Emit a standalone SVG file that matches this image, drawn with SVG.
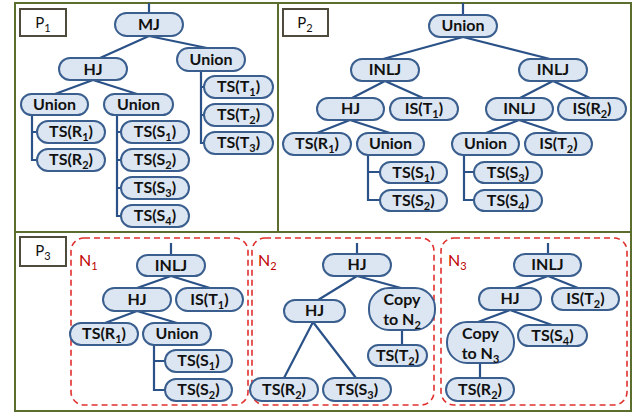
<svg xmlns="http://www.w3.org/2000/svg" width="643" height="414" viewBox="0 0 643 414">
<style>
.frame{fill:none;stroke:#5b6e2d;stroke-width:2}
.lbl{fill:#fff;stroke:#4f4b3c;stroke-width:2}
.n{fill:#dce6f2;stroke:#3a5f8f;stroke-width:2}
.e{stroke:#2b5288;stroke-width:2.2;fill:none}
.dash{fill:none;stroke:#e0302e;stroke-width:1.6;stroke-dasharray:6 4}
text{font-family:Lato,"Open Sans","Liberation Sans",sans-serif}
.t{font-weight:bold;font-size:16px;fill:#111;text-anchor:middle}
.pl{font-size:15px;fill:#111;text-anchor:middle}
.nl{font-size:16px;fill:#c00000}
.s{font-size:11px}
</style>
<rect width="643" height="414" fill="#fff"/>
<g id="frame">
<rect class="frame" x="15" y="3" width="616" height="408"/>
<line class="frame" x1="278" y1="3" x2="278" y2="232"/>
<line class="frame" x1="15" y1="232" x2="631" y2="232"/>
</g>
<g id="labels">
<rect class="lbl" x="20" y="9" width="46" height="27"/>
<text class="pl" x="43" y="28">P<tspan class="s" dy="4">1</tspan></text>
<rect class="lbl" x="283" y="9" width="45" height="27"/>
<text class="pl" x="305" y="28">P<tspan class="s" dy="4">2</tspan></text>
<rect class="lbl" x="20" y="237" width="46" height="29"/>
<text class="pl" x="43" y="256">P<tspan class="s" dy="4">3</tspan></text>
<rect class="dash" x="71" y="238" width="177" height="167" rx="13"/>
<rect class="dash" x="252" y="238" width="182" height="167" rx="13"/>
<rect class="dash" x="441" y="238" width="186" height="167" rx="13"/>
<text class="nl" x="79" y="266">N<tspan class="s" dy="4">1</tspan></text>
<text class="nl" x="258" y="266">N<tspan class="s" dy="4">2</tspan></text>
<text class="nl" x="448" y="266">N<tspan class="s" dy="4">3</tspan></text>
</g>
<g id="connectors">
<path class="e" d="M149,3V13M149,36L100,58M149,36L207,48M93,80L55,94M93,80L137,94M32,115V160H37M32,132H37M117,115V216H121M117,132H121M117,160H121M117,188H121M201,71V143H204M201,87H204M201,115H204"/>
<path class="e" d="M463,3V15M463,37L383,59M463,37L550,59M385,81L352,98M385,81L423,98M553,81L520,98M553,81L590,98M350,120L317,133M350,120L390,133M519,120L486,133M519,120L558,133M368,155V200H380M368,172H380M464,155V200H474M464,172H474"/>
<path class="e" d="M171,243V255M171,276L137,288M171,276L210,288M137,311L105,323M137,311L177,323M154,345V390H165M154,361H165"/>
<path class="e" d="M357,243V254M357,276L318,300M357,276L401,288M313,322L284,378M313,322L356,378M402,330V345"/>
<path class="e" d="M548,243V254M548,276L515,288M548,276L578,288M510,310L478,322M510,310L552,325M480,363V378"/>
</g>
<g id="p1_mj"><rect class="n" x="115" y="13" width="68" height="23" rx="11.5"/><text class="t" x="149" y="30">MJ</text></g>
<g id="p1_hj"><rect class="n" x="59" y="58" width="68" height="22" rx="11"/><text class="t" x="93" y="75">HJ</text></g>
<g id="p1_union_t"><rect class="n" x="177" y="48" width="68" height="23" rx="11.5"/><text class="t" x="211" y="65">Union</text></g>
<g id="p1_union_r"><rect class="n" x="21" y="94" width="67" height="21" rx="10.5"/><text class="t" x="54.5" y="110">Union</text></g>
<g id="p1_union_s"><rect class="n" x="104" y="94" width="69" height="21" rx="10.5"/><text class="t" x="138.5" y="110">Union</text></g>
<g id="p1_tsr1"><rect class="n" x="37" y="121" width="68" height="22" rx="11"/><text class="t" x="71" y="137">TS(R<tspan class="s" dy="4">1</tspan><tspan dy="-4">)</tspan></text></g>
<g id="p1_tsr2"><rect class="n" x="37" y="149" width="68" height="22" rx="11"/><text class="t" x="71" y="165">TS(R<tspan class="s" dy="4">2</tspan><tspan dy="-4">)</tspan></text></g>
<g id="p1_tss1"><rect class="n" x="121" y="121" width="68" height="22" rx="11"/><text class="t" x="155" y="137">TS(S<tspan class="s" dy="4">1</tspan><tspan dy="-4">)</tspan></text></g>
<g id="p1_tss2"><rect class="n" x="121" y="149" width="68" height="22" rx="11"/><text class="t" x="155" y="165">TS(S<tspan class="s" dy="4">2</tspan><tspan dy="-4">)</tspan></text></g>
<g id="p1_tss3"><rect class="n" x="121" y="177" width="68" height="22" rx="11"/><text class="t" x="155" y="193">TS(S<tspan class="s" dy="4">3</tspan><tspan dy="-4">)</tspan></text></g>
<g id="p1_tss4"><rect class="n" x="121" y="205" width="68" height="22" rx="11"/><text class="t" x="155" y="221">TS(S<tspan class="s" dy="4">4</tspan><tspan dy="-4">)</tspan></text></g>
<g id="p1_tst1"><rect class="n" x="204" y="76" width="69" height="22" rx="11"/><text class="t" x="238.5" y="92">TS(T<tspan class="s" dy="4">1</tspan><tspan dy="-4">)</tspan></text></g>
<g id="p1_tst2"><rect class="n" x="204" y="104" width="69" height="22" rx="11"/><text class="t" x="238.5" y="120">TS(T<tspan class="s" dy="4">2</tspan><tspan dy="-4">)</tspan></text></g>
<g id="p1_tst3"><rect class="n" x="204" y="132" width="69" height="22" rx="11"/><text class="t" x="238.5" y="148">TS(T<tspan class="s" dy="4">3</tspan><tspan dy="-4">)</tspan></text></g>

<g id="p2_union"><rect class="n" x="429" y="15" width="68" height="22" rx="11"/><text class="t" x="463" y="31">Union</text></g>
<g id="p2_inlj_l"><rect class="n" x="351" y="59" width="68" height="22" rx="11"/><text class="t" x="385" y="75">INLJ</text></g>
<g id="p2_inlj_r"><rect class="n" x="519" y="59" width="68" height="22" rx="11"/><text class="t" x="553" y="75">INLJ</text></g>
<g id="p2_hj"><rect class="n" x="317" y="98" width="67" height="22" rx="11"/><text class="t" x="350.5" y="114">HJ</text></g>
<g id="p2_ist1"><rect class="n" x="390" y="98" width="68" height="22" rx="11"/><text class="t" x="424" y="114">IS(T<tspan class="s" dy="4">1</tspan><tspan dy="-4">)</tspan></text></g>
<g id="p2_inlj_m"><rect class="n" x="486" y="98" width="67" height="22" rx="11"/><text class="t" x="519.5" y="114">INLJ</text></g>
<g id="p2_isr2"><rect class="n" x="558" y="98" width="68" height="22" rx="11"/><text class="t" x="592" y="114">IS(R<tspan class="s" dy="4">2</tspan><tspan dy="-4">)</tspan></text></g>
<g id="p2_tsr1"><rect class="n" x="283" y="133" width="68" height="22" rx="11"/><text class="t" x="317" y="149">TS(R<tspan class="s" dy="4">1</tspan><tspan dy="-4">)</tspan></text></g>
<g id="p2_union_l"><rect class="n" x="357" y="133" width="67" height="22" rx="11"/><text class="t" x="390.5" y="149">Union</text></g>
<g id="p2_union_r"><rect class="n" x="452" y="133" width="67" height="22" rx="11"/><text class="t" x="485.5" y="149">Union</text></g>
<g id="p2_ist2"><rect class="n" x="525" y="133" width="67" height="22" rx="11"/><text class="t" x="558.5" y="149">IS(T<tspan class="s" dy="4">2</tspan><tspan dy="-4">)</tspan></text></g>
<g id="p2_tss1"><rect class="n" x="380" y="162" width="67" height="21" rx="10.5"/><text class="t" x="413.5" y="178">TS(S<tspan class="s" dy="4">1</tspan><tspan dy="-4">)</tspan></text></g>
<g id="p2_tss2"><rect class="n" x="380" y="190" width="67" height="21" rx="10.5"/><text class="t" x="413.5" y="206">TS(S<tspan class="s" dy="4">2</tspan><tspan dy="-4">)</tspan></text></g>
<g id="p2_tss3"><rect class="n" x="474" y="162" width="68" height="21" rx="10.5"/><text class="t" x="508" y="178">TS(S<tspan class="s" dy="4">3</tspan><tspan dy="-4">)</tspan></text></g>
<g id="p2_tss4"><rect class="n" x="474" y="190" width="68" height="21" rx="10.5"/><text class="t" x="508" y="206">TS(S<tspan class="s" dy="4">4</tspan><tspan dy="-4">)</tspan></text></g>

<g id="n1_inlj"><rect class="n" x="137" y="255" width="68" height="21" rx="10.5"/><text class="t" x="171" y="271">INLJ</text></g>
<g id="n1_hj"><rect class="n" x="103" y="288" width="68" height="23" rx="11.5"/><text class="t" x="137" y="305">HJ</text></g>
<g id="n1_ist1"><rect class="n" x="176" y="288" width="67" height="23" rx="11.5"/><text class="t" x="209.5" y="305">IS(T<tspan class="s" dy="4">1</tspan><tspan dy="-4">)</tspan></text></g>
<g id="n1_tsr1"><rect class="n" x="70" y="323" width="68" height="22" rx="11"/><text class="t" x="104" y="339">TS(R<tspan class="s" dy="4">1</tspan><tspan dy="-4">)</tspan></text></g>
<g id="n1_union"><rect class="n" x="143" y="323" width="68" height="22" rx="11"/><text class="t" x="177" y="339">Union</text></g>
<g id="n1_tss1"><rect class="n" x="165" y="350" width="67" height="22" rx="11"/><text class="t" x="198.5" y="366">TS(S<tspan class="s" dy="4">1</tspan><tspan dy="-4">)</tspan></text></g>
<g id="n1_tss2"><rect class="n" x="165" y="379" width="67" height="22" rx="11"/><text class="t" x="198.5" y="395">TS(S<tspan class="s" dy="4">2</tspan><tspan dy="-4">)</tspan></text></g>

<g id="n2_hj"><rect class="n" x="323" y="254" width="68" height="22" rx="11"/><text class="t" x="357" y="270">HJ</text></g>
<g id="n2_hj2"><rect class="n" x="284" y="300" width="61" height="22" rx="11"/><text class="t" x="314.5" y="316">HJ</text></g>
<g id="n2_copy"><rect class="n" x="369" y="288" width="66" height="42" rx="20"/><text class="t" x="402" y="305">Copy</text><text class="t" x="402" y="325">to N<tspan class="s" dy="4">2</tspan></text></g>
<g id="n2_tst2"><rect class="n" x="368" y="345" width="59" height="21" rx="10.5"/><text class="t" x="397.5" y="361">TS(T<tspan class="s" dy="4">2</tspan><tspan dy="-4">)</tspan></text></g>
<g id="n2_tsr2"><rect class="n" x="250" y="378" width="68" height="23" rx="11.5"/><text class="t" x="284" y="395">TS(R<tspan class="s" dy="4">2</tspan><tspan dy="-4">)</tspan></text></g>
<g id="n2_tss3"><rect class="n" x="323" y="378" width="68" height="23" rx="11.5"/><text class="t" x="357" y="395">TS(S<tspan class="s" dy="4">3</tspan><tspan dy="-4">)</tspan></text></g>

<g id="n3_inlj"><rect class="n" x="514" y="254" width="67" height="22" rx="11"/><text class="t" x="547.5" y="270">INLJ</text></g>
<g id="n3_hj"><rect class="n" x="479" y="288" width="62" height="22" rx="11"/><text class="t" x="510" y="304">HJ</text></g>
<g id="n3_ist2"><rect class="n" x="552" y="288" width="67" height="22" rx="11"/><text class="t" x="585.5" y="304">IS(T<tspan class="s" dy="4">2</tspan><tspan dy="-4">)</tspan></text></g>
<g id="n3_copy"><rect class="n" x="447" y="322" width="67" height="41" rx="20"/><text class="t" x="480.5" y="339">Copy</text><text class="t" x="480.5" y="359">to N<tspan class="s" dy="4">3</tspan></text></g>
<g id="n3_tss4"><rect class="n" x="518" y="325" width="69" height="21" rx="10.5"/><text class="t" x="552.5" y="341">TS(S<tspan class="s" dy="4">4</tspan><tspan dy="-4">)</tspan></text></g>
<g id="n3_tsr2"><rect class="n" x="446" y="378" width="68" height="23" rx="11.5"/><text class="t" x="480" y="395">TS(R<tspan class="s" dy="4">2</tspan><tspan dy="-4">)</tspan></text></g>
</svg>
